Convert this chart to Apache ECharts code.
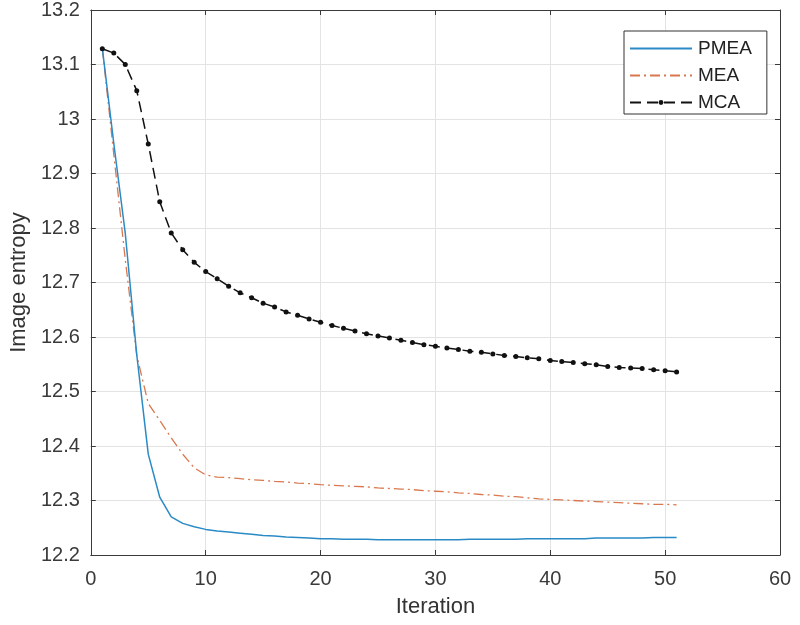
<!DOCTYPE html>
<html>
<head>
<meta charset="utf-8">
<script src="https://cdn.jsdelivr.net/npm/echarts@6/dist/echarts.min.js"></script>
<style>html,body{margin:0;padding:0;background:#fff;}#c{width:800px;height:625px;}</style>
</head>
<body>
<div id="c"></div>
<script>
const iterations = Array.from({length: 51}, (_, i) => i + 1);
const seriesNames = ['PMEA', 'MEA', 'MCA'];
const pmea = [13.130, 12.955, 12.790, 12.567, 12.385, 12.306, 12.270, 12.258, 12.252, 12.247,
  12.244, 12.242, 12.240, 12.238, 12.236, 12.235, 12.233, 12.232, 12.231, 12.230,
  12.230, 12.229, 12.229, 12.229, 12.228, 12.228, 12.228, 12.228, 12.228, 12.228,
  12.228, 12.228, 12.229, 12.229, 12.229, 12.229, 12.229, 12.230, 12.230, 12.230,
  12.230, 12.230, 12.230, 12.231, 12.231, 12.231, 12.231, 12.231, 12.232, 12.232, 12.232];
const mea = [13.130, 12.935, 12.742, 12.566, 12.478, 12.447, 12.415, 12.385, 12.360, 12.347,
  12.343, 12.342, 12.340, 12.338, 12.337, 12.335, 12.334, 12.332, 12.331, 12.329,
  12.328, 12.327, 12.326, 12.325, 12.323, 12.322, 12.321, 12.320, 12.318, 12.317,
  12.316, 12.314, 12.313, 12.311, 12.310, 12.308, 12.307, 12.305, 12.303, 12.302,
  12.301, 12.300, 12.299, 12.298, 12.297, 12.296, 12.295, 12.294, 12.293, 12.293, 12.292];
const mca = [13.129, 13.121, 13.100, 13.052, 12.954, 12.848, 12.791, 12.760, 12.737, 12.720,
  12.707, 12.693, 12.681, 12.672, 12.662, 12.655, 12.646, 12.640, 12.633, 12.627,
  12.621, 12.616, 12.611, 12.606, 12.602, 12.598, 12.594, 12.590, 12.586, 12.583,
  12.580, 12.577, 12.574, 12.572, 12.569, 12.566, 12.564, 12.562, 12.560, 12.557,
  12.555, 12.553, 12.551, 12.549, 12.546, 12.544, 12.543, 12.542, 12.540, 12.538, 12.536];
const xTicks = [0, 10, 20, 30, 40, 50, 60];
const yTicks = [12.2, 12.3, 12.4, 12.5, 12.6, 12.7, 12.8, 12.9, 13.0, 13.1, 13.2];

const pairs = arr => iterations.map((x, i) => [x, arr[i]]);
const FONT = 'Liberation Sans';
const AX = '#3a3a3a';
const fmtY = v => String(parseFloat(Number(v).toFixed(1)));

const chart = echarts.init(document.getElementById('c'), null, {renderer: 'canvas'});
const xBase = {
  type: 'value', min: xTicks[0], max: xTicks[xTicks.length - 1], interval: 10,
  axisLine: {show: true, onZero: false, lineStyle: {color: AX, width: 1}},
  axisTick: {show: true, inside: true, length: 5, lineStyle: {color: AX}}
};
const yBase = {
  type: 'value', min: yTicks[0], max: yTicks[yTicks.length - 1], interval: 0.1,
  axisLine: {show: true, onZero: false, lineStyle: {color: AX, width: 1}},
  axisTick: {show: true, inside: true, length: 5, lineStyle: {color: AX}}
};
chart.setOption({
  animation: false,
  backgroundColor: '#fff',
  grid: {left: 88, right: 20, top: 9, bottom: 70, containLabel: false},
  legend: {
    orient: 'vertical', left: 624, top: 31,
    data: [
      {name: seriesNames[0], itemStyle: {opacity: 0}},
      {name: seriesNames[1], itemStyle: {opacity: 0}},
      {name: seriesNames[2]}
    ],
    itemWidth: 62, itemHeight: 6, itemGap: 6,
    padding: [7, 15, 1, 5],
    borderColor: '#333', borderWidth: 1, backgroundColor: '#fff',
    textStyle: {fontFamily: FONT, fontSize: 19, lineHeight: 21, color: '#222', padding: [0, 0, 0, 1]}
  },
  xAxis: [
    Object.assign({}, xBase, {
      position: 'bottom',
      name: 'Iteration', nameLocation: 'middle', nameGap: 41,
      nameTextStyle: {fontFamily: FONT, fontSize: 22, color: '#333'},
      axisLabel: {fontFamily: FONT, fontSize: 20, color: '#3a3a3a', margin: 14},
      splitLine: {show: true, lineStyle: {color: '#e3e3e3', width: 1}}
    }),
    Object.assign({}, xBase, {position: 'top', axisLabel: {show: false}, splitLine: {show: false}})
  ],
  yAxis: [
    Object.assign({}, yBase, {
      position: 'left',
      name: 'Image entropy', nameLocation: 'middle', nameGap: 58,
      nameTextStyle: {fontFamily: FONT, fontSize: 22, color: '#333'},
      axisLabel: {fontFamily: FONT, fontSize: 20, color: '#3a3a3a', margin: 11, formatter: fmtY},
      splitLine: {show: true, lineStyle: {color: '#e3e3e3', width: 1}}
    }),
    Object.assign({}, yBase, {position: 'right', axisLabel: {show: false}, splitLine: {show: false}})
  ],
  series: [
    {
      name: seriesNames[0], type: 'line', data: pairs(pmea), symbol: 'none',
      color: '#2a8ac6', lineStyle: {width: 1.5, color: '#2a8ac6'}, z: 3
    },
    {
      name: seriesNames[1], type: 'line', data: pairs(mea), symbol: 'none',
      color: '#d9784f', lineStyle: {width: 1.3, color: '#d9784f', type: [10, 4, 2, 4]}, z: 2
    },
    {
      name: seriesNames[2], type: 'line', data: pairs(mca), symbol: 'circle', symbolSize: 5,
      color: '#111', itemStyle: {color: '#111'},
      lineStyle: {width: 1.5, color: '#111', type: [11, 6]}, z: 4
    }
  ]
});
</script>
</body>
</html>
